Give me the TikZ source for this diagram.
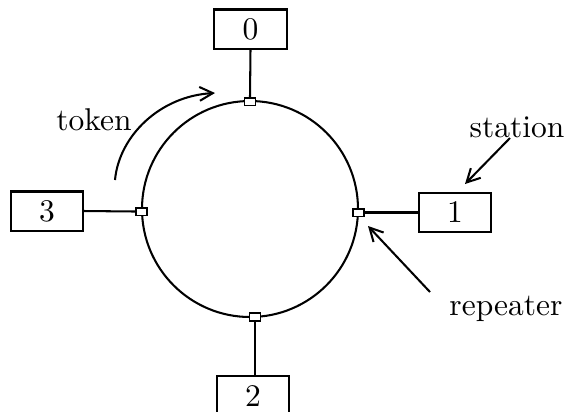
\documentclass[tikz,border=0pt]{standalone}
\usetikzlibrary{arrows.meta}
\begin{document}
\begin{tikzpicture}[x=0.3175pt,y=-0.3175pt,line width=0.65pt,
  station/.style={draw,rectangle,inner sep=0pt,minimum width=22.9pt,minimum height=12.4pt,font=\normalsize},
  rep/.style={draw,fill=white,rectangle,inner sep=0pt,minimum width=3.6pt,minimum height=2.4pt,line width=0.5pt},
  lbl/.style={inner sep=0pt,font=\normalsize},
  arr/.style={-{Straight Barb[length=4.2pt,width=4.4pt]}}]
\clip (0,0) rectangle (565,411);
\useasboundingbox (0,0) rectangle (565,411);
\node[circle,draw,minimum size=216*0.3175pt,inner sep=0pt] (ring) at (250,209) {};
\node[rep] (s0) at (250,101.5) {};
\node[rep] (s1) at (358.5,212.5) {};
\node[rep] (s2) at (255,317) {};
\node[rep] (s3) at (141.5,211.5) {};
\node[station] (b0) at (250.5,29) {0};
\node[station] (b1) at (455,212.5) {1};
\node[station] (b2) at (253,395.5) {2};
\node[station] (b3) at (47,211) {3};
\draw (b0.south) -- (s0.north);
\draw (s1.east) -- (b1.west);
\draw (s3.west) -- (b3.east);
\draw (s2.south) -- (s2.south |- b2.north);
\node[lbl] (tok) at (94,120) {token};
\node[lbl] (sta) at (517,127) {station};
\node[lbl] (rpt) at (506,309) {repeater};
\coordinate (t0) at (115,180);
\coordinate (t1) at (215,93);
\draw[arr] (t0) .. controls (119,136) and (160,96) .. (t1);
\coordinate (st0) at (510,138);
\draw[arr] (st0) -- (465,184);
\coordinate (rp0) at (430,292);
\draw[arr] (rp0) -- (368,226);
\end{tikzpicture}
\end{document}
